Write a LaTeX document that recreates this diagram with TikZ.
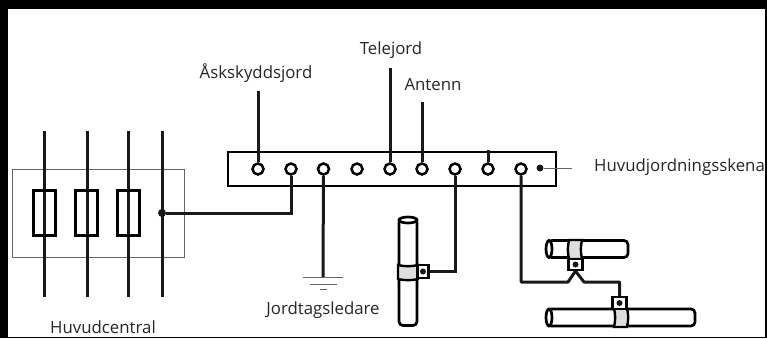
\documentclass[tikz,border=0pt]{standalone}
\usepackage{fontspec}
\setmainfont{Open Sans}
\usepackage{xcolor}
\usetikzlibrary{shapes.geometric}
\definecolor{clampgray}{gray}{0.87}
\tikzset{
  wire/.style={line width=3pt, black!90},
  feed/.style={line width=3pt, black!90},
  thinline/.style={line width=1pt, black!60},
  hole/.style={circle, draw, line width=2.5pt, fill=white, inner sep=0pt, minimum size=11pt},
  solder/.style={circle, fill=black!90, inner sep=0pt, minimum size=8pt},
  fuse/.style={rectangle, draw, line width=3pt, inner sep=0pt, minimum width=22pt, minimum height=45pt},
  pipe/.style={rectangle, draw, line width=2.7pt, fill=white, rounded corners=4pt, inner sep=0pt},
  pipeend/.style={ellipse, draw, line width=2.7pt, fill=white, inner sep=0pt},
  clamp/.style={draw, line width=2.4pt, fill=clampgray},
  lug/.style={rectangle, draw, line width=2.2pt, fill=white, inner sep=0pt, minimum width=14pt, minimum height=11pt},
  lugdot/.style={circle, fill=black!90, inner sep=0pt, minimum size=6pt},
  lbl/.style={font=\fontsize{16.8}{19}\selectfont, text=black!85, inner sep=0pt}
}
\begin{document}
\begin{tikzpicture}[x=1pt, y=-1pt]
        \useasboundingbox (0,0) rectangle (767,338);
        % frame
        \fill[black] (0,0) rectangle (767,338);
        \fill[white] (8,9) rectangle (765,337);

        % huvudcentral
        \node[draw, black!60, line width=1pt, minimum width=172pt, minimum height=88pt, inner sep=0pt] (central) at (98,213) {};
        \coordinate (l1top) at (44,131);
        \coordinate (l1bot) at (44,297);
        \coordinate (l2top) at (87,131);
        \coordinate (l2bot) at (87,297);
        \coordinate (l3top) at (128,131);
        \coordinate (l3bot) at (128,297);
        \coordinate (l4top) at (162,131);
        \coordinate (l4bot) at (162,297);
        \draw[feed] (l1top) -- (l1bot);
        \draw[feed] (l2top) -- (l2bot);
        \draw[feed] (l3top) -- (l3bot);
        \draw[feed] (l4top) -- (l4bot);
        \node[fuse] (fuse1) at (44.5,213) {};
        \node[fuse] (fuse2) at (86.5,213) {};
        \node[fuse] (fuse3) at (128,213) {};
        \node[solder] (joint) at (162,213) {};
        \node[lbl] (centrallabel) at (103,327) {Huvudcentral};

        % skena
        \node[draw, line width=2.7pt, minimum width=328pt, minimum height=34pt, inner sep=0pt] (rail) at (392,169) {};
        \node[hole] (h1) at (258,169) {};
        \node[hole] (h2) at (291,169) {};
        \node[hole] (h3) at (323.5,169) {};
        \node[hole] (h4) at (357,169) {};
        \node[hole] (h5) at (390,169) {};
        \node[hole] (h6) at (422,169) {};
        \node[hole] (h7) at (455,169) {};
        \node[hole] (h8) at (488,169) {};
        \node[hole] (h9) at (521,169) {};
        \node[solder, minimum size=7pt] (railend) at (540,168) {};
        \coordinate (railtip) at (572,168);
        \draw[thinline] (railend) -- (railtip);
        \node[lbl, anchor=west] (raillabel) at (594,167) {Huvudjordningsskena};

        % ledare uppat
        \node[lbl] (asklabel) at (256,73) {Åskskyddsjord};
        \node[lbl] (telelabel) at (391,50) {Telejord};
        \node[lbl] (antlabel) at (433,85) {Antenn};
        \coordinate (asktop) at (258,91);
        \coordinate (teletop) at (390,68);
        \coordinate (anttop) at (422,102);
        \coordinate (stubtop) at (488,150);
        \draw[wire] (asktop) -- (h1);
        \draw[wire] (teletop) -- (h5);
        \draw[wire] (anttop) -- (h6);
        \draw[wire] (stubtop) -- (h8);
        \draw[wire] (joint) -| (h2);

        % jord
        \coordinate (gnd) at (323,277);
        \draw[wire] (h3) -- (gnd);
        \draw[thinline] (303,277) -- (343,277);
        \draw[thinline] (310,284) -- (337,284);
        \draw[thinline] (320,289) -- (327,289);
        \node[lbl] (gndlabel) at (323,310) {Jordtagsledare};

        % vattenror
        \node[pipe, minimum width=18pt, minimum height=107pt] (pipeA) at (408,272) {};
        \node[pipeend, minimum width=18pt, minimum height=6pt] (pipeAend) at (408,220) {};
        \draw[clamp] (398,265) to[bend right=12] (418,265) -- (418,279) to[bend left=12] (398,279) -- cycle;
        \node[lug, minimum width=11pt, minimum height=13pt] (lugA) at (423,271.5) {};
        \node[lugdot] (dotA) at (423,271.5) {};
        \draw[wire] (lugA) -| (h7);

        % ror till hoger
        \node[pipe, minimum width=80pt, minimum height=17pt] (pipeB) at (588,249) {};
        \node[pipeend, minimum width=6pt, minimum height=17pt] (pipeBend) at (549,249) {};
        \draw[clamp] (569,240) to[bend right=12] (569,259) -- (582,259) to[bend left=12] (582,240) -- cycle;
        \node[lug] (lugB) at (575.5,264.5) {};
        \node[lugdot] (dotB) at (575.5,264.5) {};

        \node[pipe, minimum width=148pt, minimum height=17pt] (pipeC) at (621,317.5) {};
        \node[pipeend, minimum width=6pt, minimum height=17pt] (pipeCend) at (549,317.5) {};
        \draw[clamp] (614,308) to[bend left=12] (614,327) -- (627,327) to[bend right=12] (627,308) -- cycle;
        \node[lug, minimum height=12pt] (lugC) at (619.5,303) {};
        \node[lugdot] (dotC) at (619.5,303) {};

        \coordinate (bendA) at (521,282);
        \coordinate (bendB) at (568,282);
        \coordinate (bendC) at (584,282);
        \coordinate (bendD) at (619.5,282);
        \draw[wire, line join=round] (h9) -- (bendA) -- (bendB) -- (lugB.south);
        \draw[wire, line join=round] (lugB.south) -- (bendC) -- (bendD) -- (lugC);
    \end{tikzpicture}
\end{document}
